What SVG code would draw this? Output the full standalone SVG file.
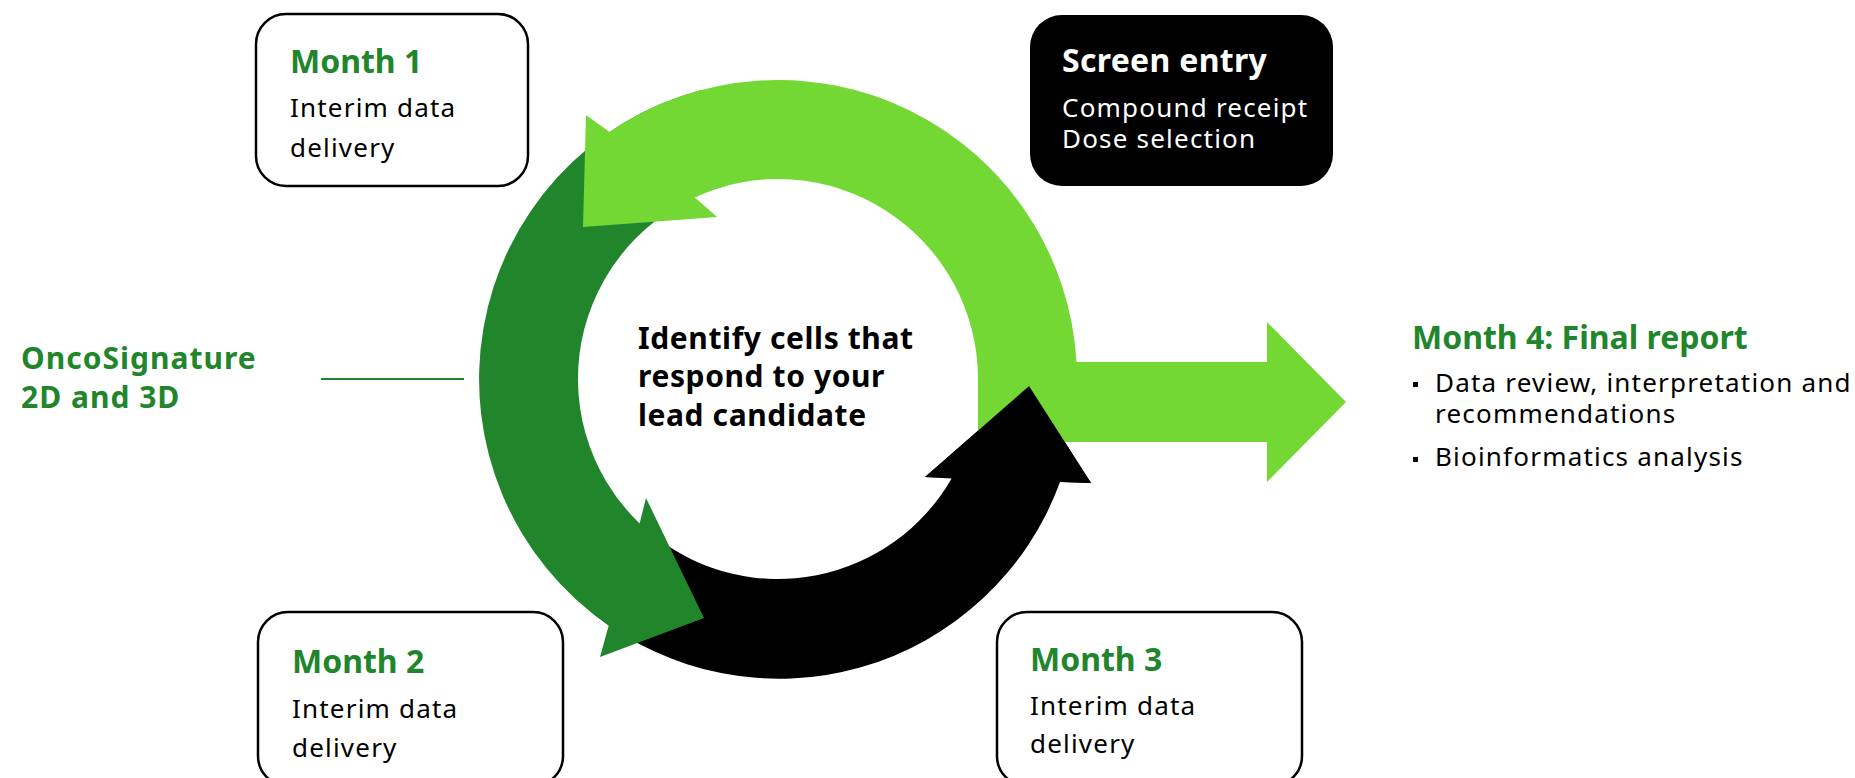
<svg xmlns="http://www.w3.org/2000/svg" width="1855" height="778" viewBox="0 0 1855 778">
<style>
text{font-family:"Noto Sans","Open Sans","DejaVu Sans",sans-serif}
.title{font-weight:700;font-size:32px;fill:#21862b}
.body{font-size:26px;fill:#000;letter-spacing:1.2px}
.wbody{font-size:26px;fill:#fff;letter-spacing:1.2px}
.wtitle{font-weight:700;font-size:32px;fill:#fff;letter-spacing:0.3px}
.box{fill:#fff;stroke:#000;stroke-width:2.5}
.center{font-weight:700;font-size:30px;fill:#000;letter-spacing:0.6px}
.onco{font-weight:700;font-size:30px;fill:#21862b;letter-spacing:1px}
.lg{fill:#73d734}
.dg{fill:#21862b}
.bk{fill:#000}
</style>
<rect width="1855" height="778" fill="#fff"/>
<g id="connectors">
<path class="bk" d="M 594 614.6 A 299 299 0 0 0 1060 482 L 1091 483 L 1029 386 L 925 477 L 951.6 478.4 A 200 200 0 0 1 654.9 536.6 Z"/>
<path class="dg" d="M 700.6 90.2 A 299 299 0 0 0 608.7 625.4 L 600 657 L 704 618 L 646 498 L 639.6 523.4 A 200 200 0 0 1 726.2 185.8 Z"/>
<path class="lg" d="M 1076.5 362 A 299 299 0 0 0 609.6 131.9 L 586 115 L 583 227 L 717 217 L 694.7 197.2 A 200 200 0 0 1 978 379 L 978 442 L 1267 442 L 1267 482 L 1346 402 L 1267 322 L 1267 362 Z"/>
<polygon class="bk" points="925,477 1029,386 1091,483"/>
<line x1="321" y1="379" x2="464" y2="379" stroke="#21862b" stroke-width="2"/>
</g>
<g id="month1">
<rect class="box" x="256" y="14" width="272" height="172" rx="30"/>
<text class="title" x="290" y="73">Month 1</text>
<text class="body" x="290" y="117">Interim data</text>
<text class="body" x="290" y="157">delivery</text>
</g>
<g id="screen-entry">
<rect x="1030" y="15" width="303" height="171" rx="32" fill="#000"/>
<text class="wtitle" x="1062" y="72">Screen entry</text>
<text class="wbody" x="1062" y="117">Compound receipt</text>
<text class="wbody" x="1062" y="148">Dose selection</text>
</g>
<g id="month2">
<rect class="box" x="258" y="612" width="305" height="174" rx="30"/>
<text class="title" x="292" y="673">Month 2</text>
<text class="body" x="292" y="718">Interim data</text>
<text class="body" x="292" y="757">delivery</text>
</g>
<g id="month3">
<rect class="box" x="997" y="612" width="305" height="174" rx="30"/>
<text class="title" x="1030" y="671">Month 3</text>
<text class="body" x="1030" y="715">Interim data</text>
<text class="body" x="1030" y="753">delivery</text>
</g>
<g id="oncosignature">
<text class="onco" x="21" y="369">OncoSignature</text>
<text class="onco" x="21" y="408">2D and 3D</text>
</g>
<g id="center-label">
<text class="center" x="638" y="349">Identify cells that</text>
<text class="center" x="638" y="387">respond to your</text>
<text class="center" x="638" y="426">lead candidate</text>
</g>
<g id="month4">
<text class="title" x="1412" y="349">Month 4: Final report</text>
<rect x="1413" y="382" width="5" height="5" fill="#000"/>
<text class="body" x="1435" y="392">Data review, interpretation and</text>
<text class="body" x="1435" y="423">recommendations</text>
<rect x="1413" y="457" width="5" height="5" fill="#000"/>
<text class="body" x="1435" y="466">Bioinformatics analysis</text>
</g>
</svg>
